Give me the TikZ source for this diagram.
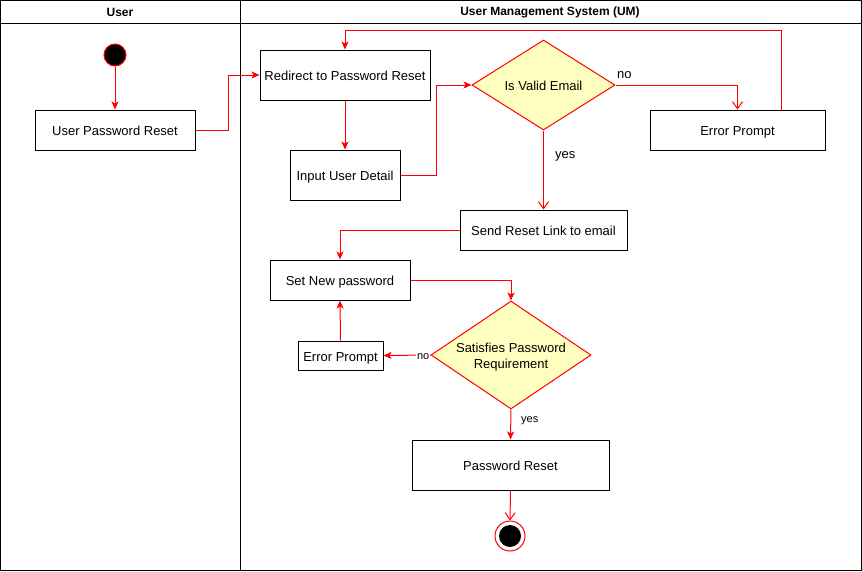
\documentclass[tikz,border=0pt]{standalone}
\usepackage{fontspec}
\setmainfont{Liberation Sans}
\usetikzlibrary{arrows.meta,shapes.geometric}

\definecolor{flowred}{HTML}{FF0000}
\definecolor{decfill}{HTML}{FFFFC0}

\tikzset{
  txt/.style={font=\fontsize{13}{16}\selectfont},
  smalltxt/.style={font=\fontsize{11}{13}\selectfont, inner sep=1pt},
  actbox/.style={txt, draw=black, line width=1pt, fill=white, inner sep=0pt, align=center,
    text height=1.1em, text depth=0pt},
  decision/.style={txt, shape=diamond, draw=flowred, line width=1pt, fill=decfill, inner sep=0pt, align=center},
  flow/.style={draw=flowred, line width=1pt, -{Stealth[length=8pt,width=7pt,inset=2pt]}},
  flowopen/.style={draw=flowred, line width=1pt, -{Straight Barb[length=7pt,width=10pt]}},
  lane/.style={draw=black, line width=1pt},
  headtxt/.style={font=\fontsize{12}{14}\selectfont\bfseries}
}

\begin{document}
\begin{tikzpicture}[x=1pt,y=-1pt]
  \useasboundingbox (0,0) rectangle (862,571);

  % swimlanes
  \draw[lane] (0.5,0.5) rectangle (861.5,570.5);
  \draw[lane] (0.5,23.5) -- (861.5,23.5);
  \draw[lane] (240.5,0.5) -- (240.5,570.5);
  \node[headtxt] (laneuser) at (120,12) {User};
  \node[headtxt] (laneum) at (550,12) {User Management System (UM)};

  % start / end states
  \node[circle, draw=flowred, fill=black, line width=1pt, minimum size=22pt, inner sep=0pt] (start) at (115,55) {};
  \node[circle, draw=flowred, fill=white, line width=1pt, minimum size=30pt, inner sep=0pt] (endc) at (510,536) {};
  \fill[black] (endc.center) circle (11pt);

  % activities
  \node[actbox, minimum width=160pt, minimum height=40pt] (upr) at (115,130) {User Password Reset};
  \node[actbox, minimum width=170pt, minimum height=50pt] (redir) at (345,75) {Redirect to Password Reset};
  \node[actbox, minimum width=110pt, minimum height=50pt] (input) at (345,175) {Input User Detail};
  \node[decision, minimum width=143pt, minimum height=90pt, aspect=1.59, text height=1.1em, text depth=0pt] (valid) at (543.5,85) {Is Valid Email};
  \node[actbox, minimum width=175pt, minimum height=40pt] (err1) at (737.5,130) {Error Prompt};
  \node[actbox, minimum width=167pt, minimum height=40pt] (send) at (543.5,230) {Send Reset Link to email};
  \node[actbox, minimum width=140pt, minimum height=40pt] (setnew) at (340,280) {Set New password};
  \node[decision, minimum width=160pt, minimum height=108pt, aspect=1.48] (satisfy) at (511,355) {\rule{0pt}{14pt}Satisfies Password\\Requirement};
  \node[actbox, minimum width=85pt, minimum height=29pt] (err2) at (340.5,355.5) {Error Prompt};
  \node[actbox, minimum width=197pt, minimum height=50pt] (pwreset) at (510.5,465) {Password Reset};

  % connectors
  \draw[flow] (start) -- (upr);
  \draw[flow] (upr.east) -- (228,130) |- (redir.west);
  \draw[flow] (redir) -- (input);
  \draw[flow] (input.east) -- (436,175) |- (valid.west);
  \draw[flowopen] (valid.east) -| (err1.north);
  \node[txt, anchor=west, inner sep=1pt] (nolbl1) at (616,75) {no};
  \draw[flow] (781,110) -- (781,30) -| (redir.north);
  \draw[flowopen] (valid.south) -- (send.north);
  \node[txt, anchor=west, inner sep=1pt] (yeslbl1) at (554,156) {yes};
  \draw[flow] (send.west) -| (setnew.north);
  \draw[flow] (setnew.east) -| (satisfy.north);
  \draw[flow] (satisfy.west) -- (err2.east);
  \node[smalltxt, fill=white, anchor=east] (nolbl2) at ([yshift=-2pt]satisfy.west) {no};
  \draw[flow] (err2.north) -- (setnew.south);
  \draw[flow] (satisfy.south) -- (pwreset.north);
  \node[smalltxt, anchor=west] (yeslbl2) at (520,421) {yes};
  \draw[flowopen] (pwreset.south) -- (endc.north);
\end{tikzpicture}
\end{document}
